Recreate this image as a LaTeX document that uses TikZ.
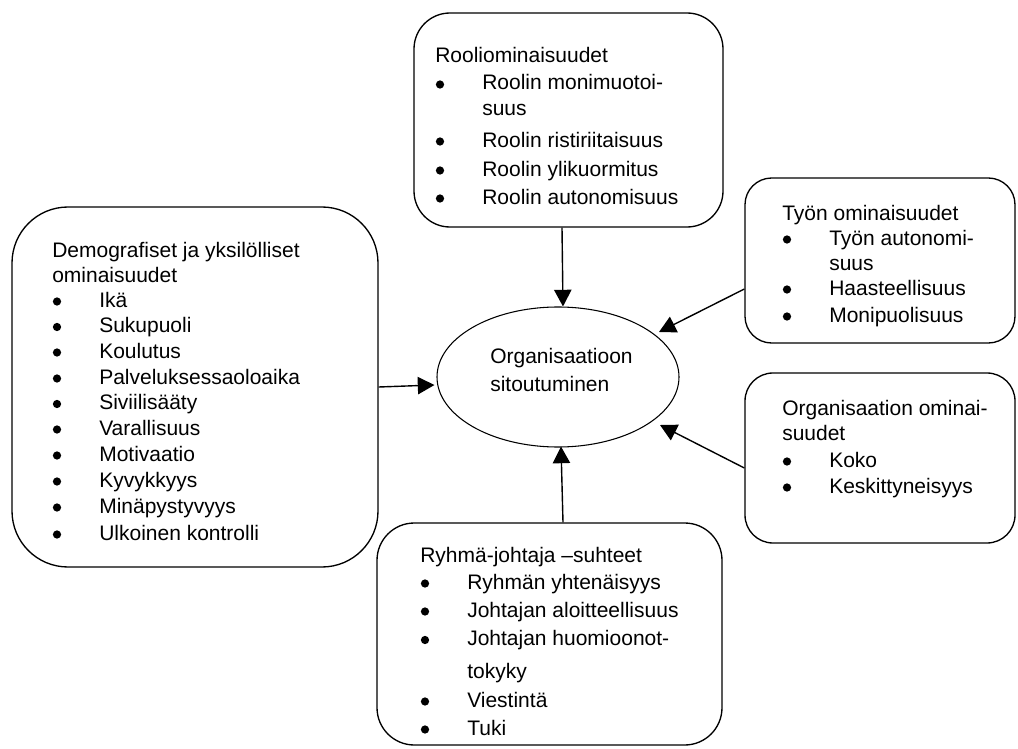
\documentclass[tikz,border=0pt]{standalone}
\usepackage{fontspec}
\setmainfont{Liberation Sans}
\usetikzlibrary{shapes.geometric,arrows.meta,calc,fit}
\newcommand\hd[4]{\node[txt] (#1) at (#2,#3) {#4};}
\newcommand\bi[4]{\node[bul] (#1b) at (#2+5,#3-5.5) {};\node[txt] (#1) at (#2+47,#3) {#4};}
\newcommand\ct[4]{\node[txt] (#1) at (#2+47,#3) {#4};}
\begin{document}
\begin{tikzpicture}[x=0.75pt,y=-0.75pt,
  box/.style={draw, line width=1pt, inner sep=0pt},
  txt/.style={anchor=base west, inner sep=0pt, font=\fontsize{15.75}{19}\selectfont},
  bul/.style={circle, fill, inner sep=0pt, minimum size=6.2pt},
  arr/.style={line width=1.05pt, -{Triangle[width=13pt,length=12.5pt]}}]
\useasboundingbox (0,0) rectangle (1018,749);
% boxes
\node[box, rounded corners=27pt, fit={(414,13) (723,227)}] (rool) {};
\node[box, rounded corners=42pt, fit={(12,207) (378,567)}] (demo) {};
\node[box, rounded corners=20pt, fit={(745,178) (1015,343)}] (tyo) {};
\node[box, rounded corners=21pt, fit={(745,373) (1015,543)}] (org) {};
\node[box, rounded corners=28pt, fit={(377,523) (722,745)}] (ryh) {};
\node[draw, ellipse, line width=0.8pt, inner sep=0pt, minimum width=181.5pt, minimum height=105pt] (ell) at (558,377) {};
% ellipse text
\hd{e1}{490}{363}{Organisaatioon}
\hd{e2}{490}{391}{sitoutuminen}
% top box text
\hd{r0}{435}{63}{Rooliominaisuudet}
\bi{r1}{435}{90}{Roolin monimuotoi-}
\ct{r2}{435}{116}{suus}
\bi{r3}{435}{147}{Roolin ristiriitaisuus}
\bi{r4}{435}{176}{Roolin ylikuormitus}
\bi{r5}{435}{204}{Roolin autonomisuus}
% left box text
\hd{d0}{52}{257}{Demografiset ja yksilölliset}
\hd{d00}{52}{282}{ominaisuudet}
\bi{d1}{52}{307}{Ikä}
\bi{d2}{52}{332.5}{Sukupuoli}
\bi{d3}{52}{358}{Koulutus}
\bi{d4}{52}{384}{Palveluksessaoloaika}
\bi{d5}{52}{409.5}{Siviilisääty}
\bi{d6}{52}{435}{Varallisuus}
\bi{d7}{52}{461}{Motivaatio}
\bi{d8}{52}{487}{Kyvykkyys}
\bi{d9}{52}{513}{Minäpystyvyys}
\bi{d10}{52}{540}{Ulkoinen kontrolli}
% tyo box text
\hd{t0}{782}{220}{Työn ominaisuudet}
\bi{t1}{782}{245}{Työn autonomi-}
\ct{t2}{782}{270}{suus}
\bi{t3}{782}{295}{Haasteellisuus}
\bi{t4}{782}{322}{Monipuolisuus}
% org box text
\hd{o0}{782}{415}{Organisaation ominai-}
\hd{o00}{782}{440}{suudet}
\bi{o1}{782}{467}{Koko}
\bi{o2}{782}{493}{Keskittyneisyys}
% ryhma box text
\hd{g0}{420}{562}{Ryhmä-johtaja –suhteet}
\bi{g1}{420}{589}{Ryhmän yhtenäisyys}
\bi{g2}{420}{617}{Johtajan aloitteellisuus}
\bi{g3}{420}{645.5}{Johtajan huomioonot-}
\ct{g4}{420}{678}{tokyky}
\bi{g5}{420}{707}{Viestintä}
\bi{g6}{420}{735}{Tuki}
% arrows
\draw[arr] ($(rool.south)+(-6.5,0)$) -- ($(ell.north)+(5,0)$);
\draw[arr] (demo.east) -- ($(ell.west)+(-2,8)$);
\draw[arr] ($(tyo.west)+(0,28.5)$) -- ($(ell.center)+(101,-45)$);
\draw[arr] ($(org.west)+(0,10)$) -- ($(ell.center)+(102,48)$);
\draw[arr] ($(ryh.north)+(13.5,0)$) -- ($(ell.south)+(3,-1)$);
\end{tikzpicture}
\end{document}
